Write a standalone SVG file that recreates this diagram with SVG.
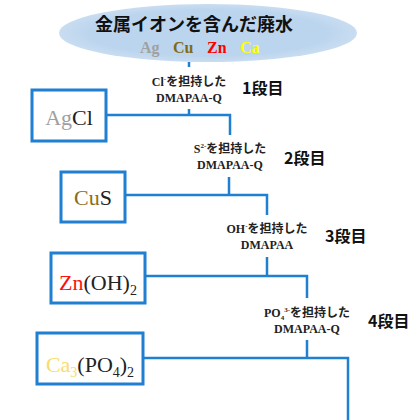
<svg xmlns="http://www.w3.org/2000/svg" width="414" height="420" viewBox="0 0 414 420">
<style>
.box{fill:#fff;stroke:#1f7fd0;stroke-width:3}
.con{fill:none;stroke:#1f7fd0;stroke-width:2.5}
.lbl{font-family:"Liberation Serif","Noto Sans CJK JP",serif;font-weight:bold;font-size:12px;fill:#222;text-anchor:middle}
.jp{font-family:"Noto Sans CJK JP",sans-serif;font-weight:bold}
.stage{font-family:"Noto Sans CJK JP",sans-serif;font-weight:bold;font-size:16px;fill:#111}
.chem{font-family:"Liberation Serif",serif;font-size:22px;fill:#222;text-anchor:middle}
</style>
<defs>
<radialGradient id="eg" cx="0.5" cy="0.5" r="0.5">
<stop offset="0.8" stop-color="#bcd5ee"/>
<stop offset="1" stop-color="#c9ddf1"/>
</radialGradient>
</defs>
<g id="source">
<ellipse cx="208" cy="33" rx="149" ry="29" fill="url(#eg)"/>
<text x="194" y="31" font-family="Noto Sans CJK JP,sans-serif" font-weight="bold" font-size="18" fill="#111" text-anchor="middle">金属イオンを含んだ廃水</text>
<g font-family="Liberation Serif,serif" font-weight="bold" font-size="16">
<text x="140" y="53" fill="#a0a0a0">Ag</text>
<text x="173" y="53" fill="#7f6a1a">Cu</text>
<text x="207" y="53" fill="#ff0000">Zn</text>
<text x="240" y="53" fill="#ffff00">Ca</text>
</g>
</g>
<g id="connectors">
<path class="con" d="M189,62 V67"/>
<path class="con" d="M189,109 V115 M106,115 H230 V135"/>
<path class="con" d="M229,177 V195 M125,195 H267 V215"/>
<path class="con" d="M267,257 V276 M145,276 H307 V298"/>
<path class="con" d="M307,340 V358 M143,358 H348 V420"/>
</g>
<g id="stage1">
<text class="lbl" x="189" y="86">Cl<tspan font-size="7" dy="-5">-</tspan><tspan class="jp" dy="5">を担持した</tspan></text>
<text class="lbl" x="189" y="102">DMAPAA-Q</text>
<text class="stage" x="242" y="94">1段目</text>
</g>
<g id="AgCl">
<rect class="box" x="32" y="90" width="74" height="51"/>
<text class="chem" x="69" y="125"><tspan fill="#a0a0a0">Ag</tspan>Cl</text>
</g>
<g id="stage2">
<text class="lbl" x="230" y="153">S<tspan font-size="7" dy="-5">2-</tspan><tspan class="jp" dy="5">を担持した</tspan></text>
<text class="lbl" x="230" y="169">DMAPAA-Q</text>
<text class="stage" x="284" y="164">2段目</text>
</g>
<g id="CuS">
<rect class="box" x="61" y="172" width="64" height="50"/>
<text class="chem" x="93" y="205"><tspan fill="#8a6d1c">Cu</tspan>S</text>
</g>
<g id="stage3">
<text class="lbl" x="267" y="233">OH<tspan font-size="7" dy="-5">-</tspan><tspan class="jp" dy="5">を担持した</tspan></text>
<text class="lbl" x="267" y="249">DMAPAA</text>
<text class="stage" x="325" y="242">3段目</text>
</g>
<g id="ZnOH2">
<rect class="box" x="51" y="253" width="94" height="50"/>
<text class="chem" x="98" y="290"><tspan fill="#ff1010">Zn</tspan>(OH)<tspan font-size="14" dy="5">2</tspan></text>
</g>
<g id="stage4">
<text class="lbl" x="307" y="317">PO<tspan font-size="7" dy="3">4</tspan><tspan font-size="7" dy="-8">3-</tspan><tspan class="jp" dy="5">を担持した</tspan></text>
<text class="lbl" x="307" y="333">DMAPAA-Q</text>
<text class="stage" x="368" y="327">4段目</text>
</g>
<g id="Ca3PO42">
<rect class="box" x="37" y="333" width="106" height="51"/>
<text class="chem" x="90" y="372"><tspan fill="#f7dc6f">Ca</tspan><tspan fill="#f7dc6f" font-size="14" dy="5">3</tspan><tspan dy="-5">(PO</tspan><tspan font-size="14" dy="5">4</tspan><tspan dy="-5">)</tspan><tspan font-size="14" dy="5">2</tspan></text>
</g>
</svg>
